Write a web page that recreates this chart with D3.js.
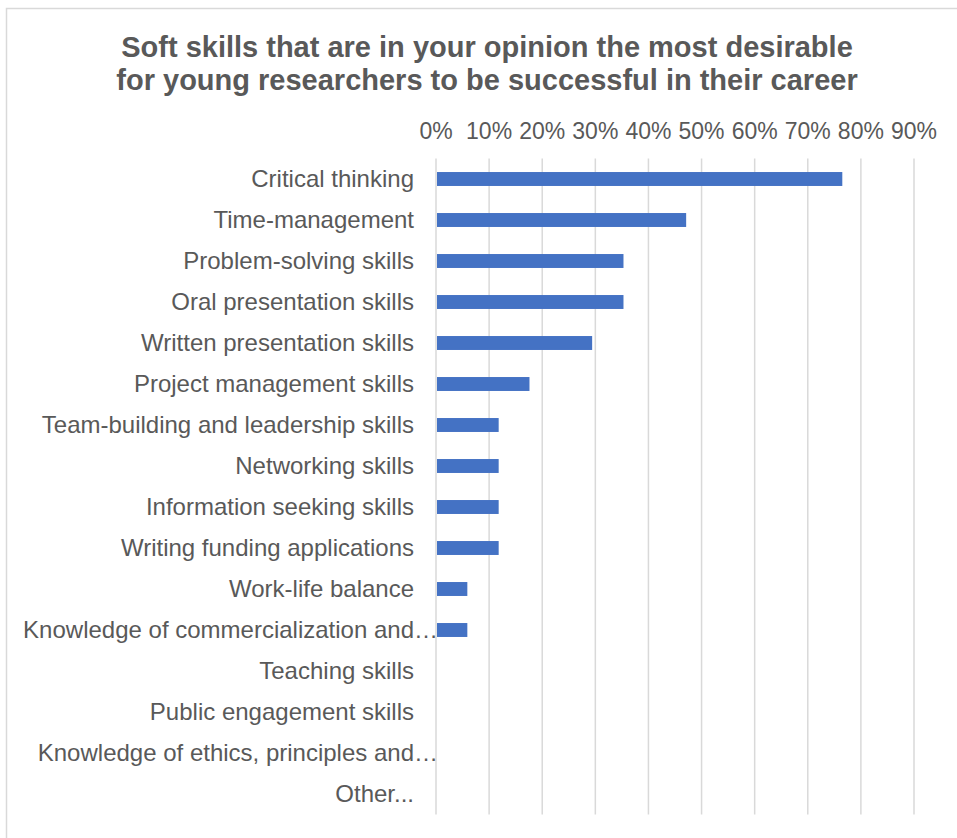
<!DOCTYPE html>
<html>
<head>
<meta charset="utf-8">
<script src="https://cdn.jsdelivr.net/npm/d3@7"></script>
<style>
  body { margin: 0; background: white; }
  svg text { font-family: "Liberation Sans", Arial, sans-serif; fill: #595959; }
</style>
</head>
<body>
<div id="chart"></div>
<script>
let width = 957
let height = 838

// data
let skills = [
    "Critical thinking",
    "Time-management",
    "Problem-solving skills",
    "Oral presentation skills",
    "Written presentation skills",
    "Project management skills",
    "Team-building and leadership skills",
    "Networking skills",
    "Information seeking skills",
    "Writing funding applications",
    "Work-life balance",
    "Knowledge of commercialization and…",
    "Teaching skills",
    "Public engagement skills",
    "Knowledge of ethics, principles and…",
    "Other..."
]
let shares = [0.765, 0.471, 0.353, 0.353, 0.294, 0.176, 0.118, 0.118, 0.118, 0.118, 0.059, 0.059, 0, 0, 0, 0]
let tickValues = [0, 0.1, 0.2, 0.3, 0.4, 0.5, 0.6, 0.7, 0.8, 0.9]
let titleLines = [
    "Soft skills that are in your opinion the most desirable",
    "for young researchers to be successful in their career"
]

let svg = d3.select("#chart")
    .append("svg")
    .attr("width", width)
    .attr("height", height)

// chart border (cut off at right and bottom)
svg.append("rect")
    .attr("x", 6.5)
    .attr("y", 8.5)
    .attr("width", 1000)
    .attr("height", 1000)
    .attr("fill", "white")
    .attr("stroke", "#d9d9d9")
    .attr("stroke-width", 1.5)

// title
svg.append("text")
    .attr("x", 487)
    .attr("y", 57)
    .attr("text-anchor", "middle")
    .style("font-size", "29px")
    .style("font-weight", "bold")
    .selectAll("tspan")
    .data(titleLines)
    .join("tspan")
    .attr("x", 487)
    .attr("dy", (d, i) => i === 0 ? 0 : 33)
    .text(d => d)

let x = d3.scaleLinear()
    .domain([0, 0.9])
    .range([436, 914])

let y = d3.scaleBand()
    .domain(skills)
    .range([158.5, 814.5])
    .paddingInner(0.66)
    .paddingOuter(0.33)

// gridlines
svg.append("g")
    .selectAll("line")
    .data(tickValues)
    .join("line")
    .attr("x1", d => x(d))
    .attr("x2", d => x(d))
    .attr("y1", 158.5)
    .attr("y2", 814.5)
    .attr("stroke", "#d9d9d9")
    .attr("stroke-width", 1.5)

// top axis labels
svg.append("g")
    .selectAll("text")
    .data(tickValues)
    .join("text")
    .attr("x", d => x(d))
    .attr("y", 139)
    .attr("text-anchor", "middle")
    .style("font-size", "23px")
    .text(d => d3.format(".0%")(d))

// bars
svg.append("g")
    .selectAll("rect")
    .data(shares)
    .join("rect")
    .attr("x", x(0) + 1)
    .attr("y", (d, i) => y(skills[i]))
    .attr("width", d => Math.max(0, x(d) - x(0) - 1))
    .attr("height", y.bandwidth())
    .attr("fill", "#4472c4")

// category labels
svg.append("g")
    .selectAll("text")
    .data(skills)
    .join("text")
    .attr("x", d => d.endsWith("…") ? 438 : 414)
    .attr("y", d => y(d) + y.bandwidth() / 2)
    .attr("dy", "0.35em")
    .attr("text-anchor", "end")
    .style("font-size", "24px")
    .text(d => d)
</script>
</body>
</html>
